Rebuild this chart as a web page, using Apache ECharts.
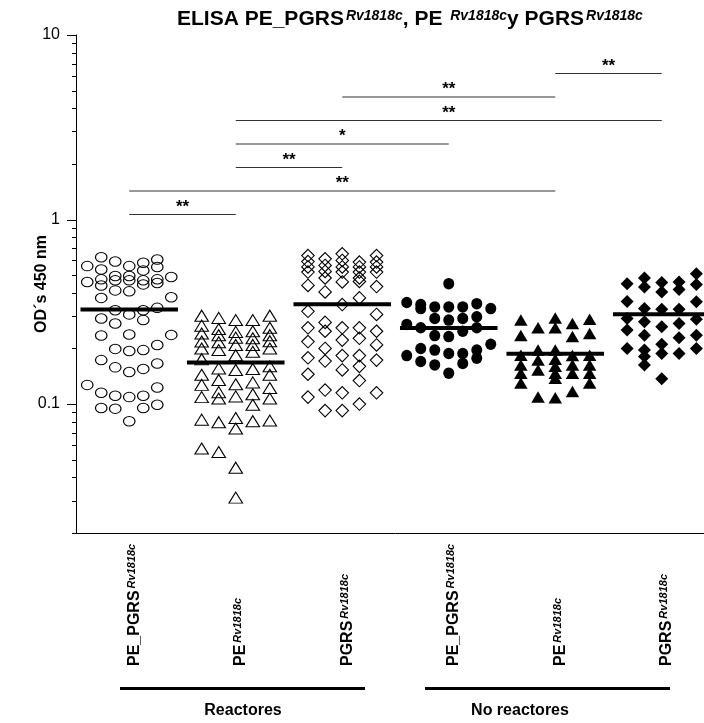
<!DOCTYPE html>
<html>
<head>
<meta charset="utf-8">
<script src="https://cdn.jsdelivr.net/npm/echarts@6.0.0/dist/echarts.min.js"></script>
<style>
  html, body { margin: 0; padding: 0; background: #fff; overflow: hidden; }
  /* the source figure is cropped on the right, so the plot runs past the window edge */
  #chart { width: 715px; height: 723px; }
</style>
</head>
<body>
<div id="chart"></div>
<script>
// categories on the x axis (main text + superscript)
const categories = ['PE_PGRS', 'PE', 'PGRS', 'PE_PGRS', 'PE', 'PGRS'];
const superscript = 'Rv1818c';
const groupNames = ['Reactores', 'No reactores'];
const yMajorTicks = [0.1, 1, 10];
const yMinorTicks = [0.02, 0.03, 0.04, 0.05, 0.06, 0.07, 0.08, 0.09,
                     0.2, 0.3, 0.4, 0.5, 0.6, 0.7, 0.8, 0.9,
                     2, 3, 4, 5, 6, 7, 8, 9];

// OD values, one inner list per column of the dot plot (left to right)
const reactPEPGRS = [
  [0.559, 0.459, 0.127],
  [0.625, 0.536, 0.474, 0.439, 0.376, 0.291, 0.235, 0.173, 0.115, 0.0952],
  [0.592, 0.494, 0.468, 0.413, 0.322, 0.273, 0.199, 0.158, 0.111, 0.0944],
  [0.559, 0.494, 0.468, 0.408, 0.306, 0.238, 0.194, 0.149, 0.109, 0.0807],
  [0.583, 0.530, 0.468, 0.445, 0.322, 0.285, 0.196, 0.155, 0.111, 0.0952],
  [0.607, 0.553, 0.474, 0.453, 0.332, 0.209, 0.166, 0.123, 0.0991],
  [0.488, 0.379, 0.237]
];
const reactPE = [
  [0.301, 0.266, 0.241, 0.218, 0.200, 0.175, 0.144, 0.127, 0.109, 0.0823, 0.0574],
  [0.293, 0.255, 0.236, 0.216, 0.196, 0.156, 0.135, 0.116, 0.107, 0.0797, 0.0549],
  [0.285, 0.246, 0.229, 0.209, 0.184, 0.153, 0.128, 0.110, 0.0840, 0.0736, 0.0452, 0.0311],
  [0.285, 0.248, 0.227, 0.209, 0.192, 0.155, 0.131, 0.113, 0.0991, 0.0807],
  [0.301, 0.259, 0.236, 0.219, 0.200, 0.160, 0.144, 0.122, 0.107, 0.0813]
];
const reactPGRS = [
  [0.638, 0.592, 0.553, 0.519, 0.439, 0.318, 0.259, 0.218, 0.178, 0.145, 0.109],
  [0.612, 0.564, 0.523, 0.482, 0.405, 0.277, 0.248, 0.200, 0.171, 0.119, 0.0921],
  [0.652, 0.600, 0.553, 0.519, 0.459, 0.346, 0.259, 0.222, 0.183, 0.153, 0.115, 0.0921],
  [0.588, 0.553, 0.519, 0.482, 0.462, 0.376, 0.259, 0.227, 0.183, 0.160, 0.134, 0.100],
  [0.638, 0.588, 0.553, 0.519, 0.433, 0.306, 0.248, 0.209, 0.173, 0.115]
];
const noReactPEPGRS = [
  [0.355, 0.270, 0.183],
  [0.346, 0.329, 0.259, 0.200, 0.170],
  [0.336, 0.291, 0.235, 0.196, 0.163],
  [0.449, 0.336, 0.285, 0.232, 0.188, 0.147],
  [0.336, 0.291, 0.248, 0.188, 0.166],
  [0.350, 0.297, 0.259, 0.196, 0.177],
  [0.329, 0.211]
];
const noReactPE = [
  [0.285, 0.235, 0.184, 0.163, 0.147, 0.130],
  [0.259, 0.196, 0.173, 0.153, 0.109],
  [0.293, 0.259, 0.196, 0.175, 0.160, 0.147, 0.138, 0.108],
  [0.273, 0.232, 0.183, 0.163, 0.147, 0.117],
  [0.288, 0.241, 0.184, 0.163, 0.147, 0.130]
];
const noReactPGRS = [
  [0.449, 0.360, 0.291, 0.252, 0.200],
  [0.482, 0.431, 0.329, 0.279, 0.236, 0.196, 0.181, 0.163],
  [0.455, 0.405, 0.326, 0.262, 0.211, 0.188, 0.137],
  [0.459, 0.418, 0.326, 0.273, 0.229, 0.188],
  [0.508, 0.444, 0.358, 0.288, 0.236, 0.200]
];
const medians = [0.325, 0.168, 0.347, 0.258, 0.187, 0.307];

// significance comparisons: [from category, to category, mark], bottom to top
const comparisons = [
  [0, 1, '**'],
  [0, 4, '**'],
  [1, 2, '**'],
  [1, 3, '*'],
  [1, 5, '**'],
  [2, 4, '**'],
  [4, 5, '**']
];

// ---- styling / layout ----
const FONT = '"Liberation Sans", Arial, sans-serif';
const groups = [reactPEPGRS, reactPE, reactPGRS, noReactPEPGRS, noReactPE, noReactPGRS];
const colSpacing = [0.1315, 0.16, 0.161, 0.1315, 0.1615, 0.1625];
const ellipse = 'path://M0,5A5,5 0 1 1 10,5A5,5 0 1 1 0,5Z';
const symbols = [
  {symbol: ellipse, size: [11.5, 9.5], filled: false},
  {symbol: 'triangle', size: [13.5, 11], filled: false},
  {symbol: 'diamond', size: [12.5, 12.5], filled: false},
  {symbol: ellipse, size: [11, 11.5], filled: true},
  {symbol: 'triangle', size: [13.5, 11.5], filled: true},
  {symbol: 'diamond', size: [13, 13], filled: true}
];

function toPoints(cols, g) {
  const mid = (cols.length - 1) / 2;
  const pts = [];
  cols.forEach(function (vals, c) {
    vals.forEach(function (v) {
      pts.push([g + 0.5 + (c - mid) * colSpacing[g], v]);
    });
  });
  return pts;
}

const scatterSeries = groups.map(function (cols, g) {
  const s = symbols[g];
  return {
    type: 'scatter',
    xAxisIndex: 1,
    yAxisIndex: 0,
    symbol: s.symbol,
    symbolSize: s.size,
    data: toPoints(cols, g),
    itemStyle: {
      color: s.filled ? '#000' : 'rgba(0,0,0,0)',
      borderColor: '#000',
      borderWidth: s.filled ? 0 : 1.1,
      opacity: 1
    },
    emphasis: {disabled: true},
    silent: true,
    z: 3
  };
});

const medianSeries = {
  type: 'custom',
  xAxisIndex: 1,
  yAxisIndex: 0,
  silent: true,
  z: 5,
  data: medians.map(function (m, i) { return [i, m]; }),
  renderItem: function (params, api) {
    const i = api.value(0), m = api.value(1);
    const p1 = api.coord([i + 0.5 - 0.458, m]);
    const p2 = api.coord([i + 0.5 + 0.458, m]);
    return {
      type: 'line',
      shape: {x1: p1[0], y1: p1[1], x2: p2[0], y2: p2[1]},
      style: {stroke: '#000', lineWidth: 4}
    };
  }
};

const bracketSeries = {
  type: 'custom',
  xAxisIndex: 1,
  yAxisIndex: 0,
  silent: true,
  z: 5,
  data: comparisons.map(function (c, k) { return [c[0], c[1], k]; }),
  renderItem: function (params, api) {
    const a = api.value(0), b = api.value(1), k = api.value(2);
    const x1 = api.coord([a + 0.5, 1])[0];
    const x2 = api.coord([b + 0.5, 1])[0];
    const y = 214.5 - k * 23.5;
    return {
      type: 'group',
      children: [
        {type: 'line', shape: {x1: x1, y1: y, x2: x2, y2: y},
         style: {stroke: '#333', lineWidth: 1}},
        {type: 'text', x: (x1 + x2) / 2, y: y + 1,
         style: {text: comparisons[k][2], fill: '#000', font: 'bold 17px ' + FONT,
                 align: 'center', verticalAlign: 'bottom'}}
      ]
    };
  }
};

const tickValues = yMajorTicks.map(function (v) { return [v, 9]; })
  .concat(yMinorTicks.map(function (v) { return [v, 4]; }));
const tickSeries = {
  type: 'custom',
  xAxisIndex: 1,
  yAxisIndex: 0,
  silent: true,
  z: 6,
  data: tickValues.map(function (t) { return [0, t[0], t[1]]; }),
  renderItem: function (params, api) {
    const p = api.coord([0, api.value(1)]);
    const len = api.value(2);
    const y = Math.round(p[1]) + 0.5;
    return {
      type: 'line',
      shape: {x1: p[0] - len, y1: y, x2: p[0], y2: y},
      style: {stroke: '#000', lineWidth: 1}
    };
  }
};

const richLabel = {
  b: {fontFamily: FONT, fontSize: 16, fontWeight: 'bold', color: '#000', verticalAlign: 'bottom'},
  s: {fontFamily: FONT, fontSize: 11, fontWeight: 'bold', fontStyle: 'italic', color: '#000',
      verticalAlign: 'top', padding: [0, 0, 0, 2]}
};
const richTitle = {
  b: {fontFamily: FONT, fontSize: 21, fontWeight: 'bold', color: '#000', verticalAlign: 'bottom'},
  s: {fontFamily: FONT, fontSize: 14, fontWeight: 'bold', fontStyle: 'italic', color: '#000',
      verticalAlign: 'top', padding: [0, 0, 0, 2]}
};

const option = {
  animation: false,
  backgroundColor: '#fff',
  title: {
    text: '{b|ELISA PE_PGRS}{s|' + superscript + '}{b|, PE }{s|' + superscript + '}{b|y PGRS}{s|' + superscript + '}',
    left: 172,
    top: 4,
    textStyle: {rich: richTitle}
  },
  grid: {left: 76, top: 35, right: 0, height: 498},
  xAxis: [
    {
      type: 'category',
      data: categories,
      boundaryGap: true,
      axisLine: {lineStyle: {color: '#000', width: 1}},
      axisTick: {inside: true, length: 9, lineStyle: {color: '#000'}},
      axisLabel: {
        interval: 0,
        rotate: 90,
        align: 'left',
        margin: 133,
        padding: [10, 0, 0, 0],
        formatter: function (v) { return '{b|' + v + '}{s|' + superscript + '}'; },
        rich: richLabel
      },
      splitLine: {show: false}
    },
    {
      type: 'value',
      min: 0,
      max: 6,
      show: false
    }
  ],
  yAxis: {
    type: 'log',
    logBase: 10,
    min: 0.02,
    max: 10,
    name: 'OD´s 450 nm',
    nameLocation: 'middle',
    nameGap: 26,
    nameRotate: 90,
    nameMoveOverlap: false,
    nameTextStyle: {fontFamily: FONT, fontSize: 16, fontWeight: 'bold', color: '#000'},
    axisLine: {show: true, lineStyle: {color: '#000', width: 1}},
    axisTick: {show: false},
    splitLine: {show: false},
    axisLabel: {
      margin: 16,
      fontFamily: FONT,
      fontSize: 16,
      color: '#000',
      formatter: function (v) {
        const hit = yMajorTicks.find(function (t) { return Math.abs(t - v) / t < 1e-6; });
        return hit === undefined ? '' : String(hit);
      }
    }
  },
  graphic: [
    {type: 'rect', shape: {x: 120, y: 687, width: 245, height: 3}, style: {fill: '#000'}},
    {type: 'rect', shape: {x: 425, y: 687, width: 245, height: 3}, style: {fill: '#000'}},
    {type: 'text', x: 243, y: 711, style: {text: groupNames[0], font: 'bold 16px ' + FONT,
      fill: '#000', align: 'center', verticalAlign: 'middle'}},
    {type: 'text', x: 520, y: 711, style: {text: groupNames[1], font: 'bold 16px ' + FONT,
      fill: '#000', align: 'center', verticalAlign: 'middle'}}
  ],
  series: scatterSeries.concat([medianSeries, bracketSeries, tickSeries])
};

const chart = echarts.init(document.getElementById('chart'));
chart.setOption(option);
</script>
</body>
</html>
